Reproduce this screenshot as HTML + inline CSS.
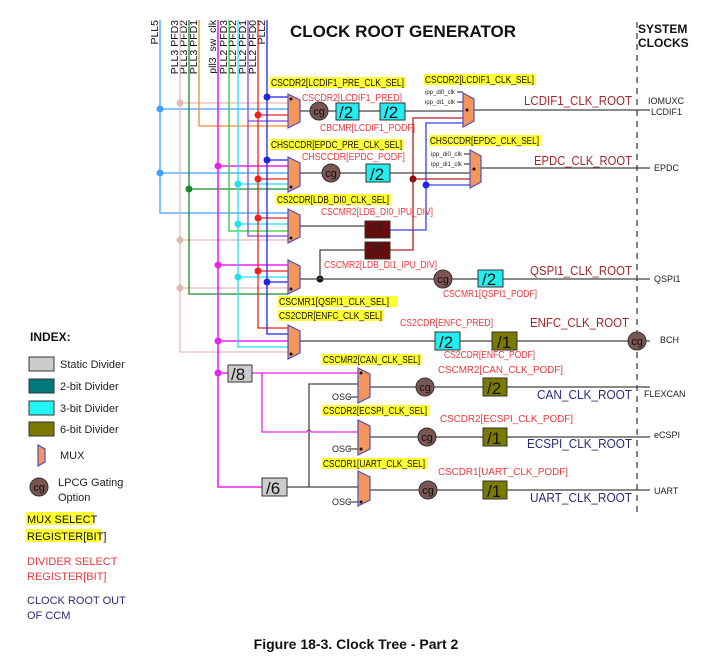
<!DOCTYPE html>
<html><head><meta charset="utf-8"><style>
html,body{margin:0;padding:0;background:#fff;}
svg{display:block;font-family:"Liberation Sans",Arial,sans-serif;}
.y{fill:#ffff33}
.rl{fill:#e8383d;font-size:10px}
.yl{fill:#111;font-size:10px}
.root{fill:#a0282d;font-size:13px}
.nroot{fill:#2a2a7a;font-size:13px}
.out{fill:#222;font-size:9px}
.dv{font-size:17px;fill:#111}
</style></head><body>
<svg width="713" height="661" viewBox="0 0 713 661" xmlns="http://www.w3.org/2000/svg">
<defs>
<g id="cg"><circle r="9" fill="#7a5552" stroke="#333" stroke-width="1"/><text y="4" text-anchor="middle" font-size="11" fill="#111">cg</text></g>
</defs>
<rect width="713" height="661" fill="#fff"/>
<text x="290" y="37" font-size="17" font-weight="bold" fill="#111">CLOCK ROOT GENERATOR</text>
<text x="638" y="33" font-size="12" font-weight="bold" fill="#111">SYSTEM</text>
<text x="638" y="47" font-size="12" font-weight="bold" fill="#111">CLOCKS</text>
<line x1="637" y1="22" x2="637" y2="512" stroke="#333" stroke-width="1.2" stroke-dasharray="6,5"/>

<!-- source labels -->
<g font-size="10.5" fill="#111">
<text transform="translate(158,20) rotate(-90)" text-anchor="end">PLL5</text>
<text transform="translate(178,20) rotate(-90)" text-anchor="end">PLL3 PFD3</text>
<text transform="translate(187,20) rotate(-90)" text-anchor="end">PLL3 PFD2</text>
<text transform="translate(197,20) rotate(-90)" text-anchor="end">PLL3 PFD1</text>
<text transform="translate(216,20) rotate(-90)" text-anchor="end">pll3_sw_clk</text>
<text transform="translate(227,20) rotate(-90)" text-anchor="end">PLL2 PFD3</text>
<text transform="translate(236,20) rotate(-90)" text-anchor="end">PLL2 PFD2</text>
<text transform="translate(246,20) rotate(-90)" text-anchor="end">PLL2 PFD1</text>
<text transform="translate(256,20) rotate(-90)" text-anchor="end">PLL2 PFD0</text>
<text transform="translate(265,20) rotate(-90)" text-anchor="end">PLL2</text>
</g>

<g fill="none" stroke-width="1.3">
<path stroke="#3fa0ff" d="M160 20V213H288 M160 109H288 M160 173H288"/>
<path stroke="#e8b8b8" d="M180 20V352H288 M180 103H288 M180 240H288 M180 288H288"/>
<path stroke="#1a8a2a" d="M189 20V294H288 M189 189H288"/>
<path stroke="#f08a30" d="M199 20V126H288"/>
<path stroke="#ee22ee" stroke-width="1.6" d="M218 20V487H262 M218 166H288 M218 265H288 M218 341H288 M218 373H228"/>
<path stroke="#33cc33" d="M229 20V231H288"/>
<path stroke="#22e0f0" d="M238 20V347H288 M238 184H288 M238 224H288 M238 277H288"/>
<path stroke="#8844dd" d="M248 20V236H288 M248 121H288"/>
<path stroke="#ee2222" d="M258 20V328H288 M258 115H288 M258 179H288 M258 218H288 M258 271H288"/>
<path stroke="#2222ee" d="M267 20V334H288 M267 97H288 M267 160H288 M267 282H288"/>
<path stroke="#ee22ee" d="M252 373H358 M262 373V432H307 M311 432H358"/>
<path stroke="#ee22ee" d="M307 432 a2 2 0 0 1 4 0"/>
<path stroke="#3344dd" d="M390 230H426V123H463 M426 185H470"/>
<path stroke="#b02020" d="M390 250H413V118H463 M413 179H470"/>
</g>
<g>
<circle cx="160" cy="109" r="3.5" fill="#3fa0ff"/><circle cx="160" cy="173" r="3.5" fill="#3fa0ff"/>
<circle cx="180" cy="103" r="3.5" fill="#e8b8b8"/><circle cx="180" cy="240" r="3.5" fill="#e8b8b8"/><circle cx="180" cy="288" r="3.5" fill="#e8b8b8"/>
<circle cx="189" cy="189" r="3.5" fill="#1a8a2a"/>
<circle cx="218" cy="166" r="3.5" fill="#ee22ee"/><circle cx="218" cy="265" r="3.5" fill="#ee22ee"/><circle cx="218" cy="341" r="3.5" fill="#ee22ee"/><circle cx="218" cy="373" r="3.5" fill="#ee22ee"/>
<circle cx="238" cy="184" r="3.5" fill="#22e0f0"/><circle cx="238" cy="224" r="3.5" fill="#22e0f0"/><circle cx="238" cy="277" r="3.5" fill="#22e0f0"/>
<circle cx="258" cy="115" r="3.5" fill="#ee2222"/><circle cx="258" cy="179" r="3.5" fill="#ee2222"/><circle cx="258" cy="218" r="3.5" fill="#ee2222"/><circle cx="258" cy="271" r="3.5" fill="#ee2222"/>
<circle cx="267" cy="97" r="3.5" fill="#2222ee"/><circle cx="267" cy="160" r="3.5" fill="#2222ee"/><circle cx="267" cy="282" r="3.5" fill="#2222ee"/>
<circle cx="426" cy="185" r="3.5" fill="#2222ee"/><circle cx="413" cy="179" r="3.5" fill="#8a1010"/>
<circle cx="320" cy="279" r="3.5" fill="#111"/>
</g>

<g stroke="#444" stroke-width="1.3" fill="none">
<path d="M300 111H463 M474 110H650"/>
<path d="M300 173H470 M481 168H650"/>
<path d="M300 226H365"/>
<path d="M300 279H650 M320 279V250H365"/>
<path d="M300 341H650"/>
<path d="M370 387H650 M370 437H650 M370 490H650"/>
<path d="M287 487H358 M309 487V384H358"/>
<path d="M348 397H358 M348 449H358 M348 502H358"/>
<path d="M457 92H463 M457 102H463 M464 154H470 M464 164H470"/>
</g>

<g fill="#f4955a" stroke="#5050c0" stroke-width="1.2">
<polygon points="288,94 300,100 300,122 288,128"/>
<polygon points="288,157 300,163 300,186 288,192"/>
<polygon points="288,209 300,215 300,237 288,243"/>
<polygon points="288,260 300,266 300,288 288,294"/>
<polygon points="288,325 300,331 300,353 288,359"/>
<polygon points="463,93 474,99 474,121 463,127"/>
<polygon points="470,150 481,156 481,182 470,188"/>
<polygon points="358,368 370,374 370,397 358,403"/>
<polygon points="358,420 370,426 370,449 358,455"/>
<polygon points="358,471 370,477 370,500 358,506"/>
</g>
<g fill="#111">
<circle cx="291" cy="99" r="1.5"/><circle cx="291" cy="187" r="1.5"/><circle cx="291" cy="238" r="1.5"/><circle cx="291" cy="289" r="1.5"/><circle cx="291" cy="354" r="1.5"/>
<circle cx="467" cy="110" r="1.5"/><circle cx="474" cy="169" r="1.5"/>
<circle cx="361" cy="373" r="1.5"/><circle cx="361" cy="449" r="1.5"/><circle cx="361" cy="502" r="1.5"/>
</g>

<use href="#cg" x="319" y="111"/><use href="#cg" x="331" y="173"/><use href="#cg" x="443" y="279"/>
<use href="#cg" x="637" y="341"/><use href="#cg" x="425" y="387"/><use href="#cg" x="427" y="437"/><use href="#cg" x="428" y="490"/>

<g stroke="#333" stroke-width="1">
<rect x="336" y="103" width="23" height="17" fill="#22eef0"/>
<rect x="380" y="103" width="25" height="17" fill="#22eef0"/>
<rect x="366" y="164" width="24" height="18" fill="#22eef0"/>
<rect x="365" y="221" width="25" height="17" fill="#6a0a0a"/>
<rect x="365" y="242" width="25" height="17" fill="#6a0a0a"/>
<rect x="478" y="270" width="25" height="17" fill="#22eef0"/>
<rect x="435" y="332" width="25" height="18" fill="#22eef0"/>
<rect x="492" y="332" width="25" height="18" fill="#7a7a00"/>
<rect x="483" y="378" width="24" height="18" fill="#7a7a00"/>
<rect x="483" y="428" width="24" height="18" fill="#7a7a00"/>
<rect x="483" y="481" width="24" height="18" fill="#7a7a00"/>
<rect x="228" y="365" width="24" height="17" fill="#cccccc"/>
<rect x="262" y="478" width="25" height="18" fill="#cccccc"/>
</g>
<g class="dv">
<text x="339" y="118">/2</text><text x="384" y="118">/2</text><text x="370" y="180">/2</text>
<text x="369" y="236" fill="#222">/7</text><text x="369" y="257" fill="#222">/7</text>
<text x="482" y="285">/2</text><text x="439" y="348">/2</text><text x="497" y="348">/1</text>
<text x="487" y="394">/2</text><text x="487" y="444">/1</text><text x="487" y="497">/1</text>
<text x="231" y="380">/8</text><text x="266" y="494">/6</text>
</g>

<g>
<rect class="y" x="270" y="77" width="136" height="11"/><text class="yl" x="271" y="86" textLength="133" lengthAdjust="spacingAndGlyphs">CSCDR2[LCDIF1_PRE_CLK_SEL]</text>
<rect class="y" x="424" y="74" width="112" height="11"/><text class="yl" x="425" y="83" textLength="109" lengthAdjust="spacingAndGlyphs">CSCDR2[LCDIF1_CLK_SEL]</text>
<rect class="y" x="270" y="139" width="134" height="11"/><text class="yl" x="271" y="148" textLength="131" lengthAdjust="spacingAndGlyphs">CHSCCDR[EPDC_PRE_CLK_SEL]</text>
<rect class="y" x="429" y="135" width="112" height="11"/><text class="yl" x="430" y="144" textLength="109" lengthAdjust="spacingAndGlyphs">CHSCCDR[EPDC_CLK_SEL]</text>
<rect class="y" x="276" y="194" width="115" height="11"/><text class="yl" x="277" y="203" textLength="112" lengthAdjust="spacingAndGlyphs">CS2CDR[LDB_DI0_CLK_SEL]</text>
<rect class="y" x="278" y="296" width="119" height="11"/><text class="yl" x="279" y="305" textLength="110" lengthAdjust="spacingAndGlyphs">CSCMR1[QSPI1_CLK_SEL]</text>
<rect class="y" x="278" y="310" width="106" height="11"/><text class="yl" x="279" y="319" textLength="103" lengthAdjust="spacingAndGlyphs">CS2CDR[ENFC_CLK_SEL]</text>
<rect class="y" x="322" y="354" width="100" height="11"/><text class="yl" x="323" y="363" textLength="97" lengthAdjust="spacingAndGlyphs">CSCMR2[CAN_CLK_SEL]</text>
<rect class="y" x="322" y="405" width="107" height="11"/><text class="yl" x="323" y="414" textLength="104" lengthAdjust="spacingAndGlyphs">CSCDR2[ECSPI_CLK_SEL]</text>
<rect class="y" x="322" y="458" width="105" height="11"/><text class="yl" x="323" y="467" textLength="102" lengthAdjust="spacingAndGlyphs">CSCDR1[UART_CLK_SEL]</text>
</g>
<g class="rl" lengthAdjust="spacingAndGlyphs">
<text x="302" y="101" textLength="100" lengthAdjust="spacingAndGlyphs">CSCDR2[LCDIF1_PRED]</text>
<text x="320" y="131" textLength="95" lengthAdjust="spacingAndGlyphs">CBCMR[LCDIF1_PODF]</text>
<text x="302" y="160" textLength="103" lengthAdjust="spacingAndGlyphs">CHSCCDR[EPDC_PODF]</text>
<text x="321" y="215" textLength="112" lengthAdjust="spacingAndGlyphs">CSCMR2[LDB_DI0_IPU_DIV]</text>
<text x="324" y="268" textLength="113" lengthAdjust="spacingAndGlyphs">CSCMR2[LDB_DI1_IPU_DIV]</text>
<text x="443" y="297" textLength="94" lengthAdjust="spacingAndGlyphs">CSCMR1[QSPI1_PODF]</text>
<text x="400" y="326" textLength="93" lengthAdjust="spacingAndGlyphs">CS2CDR[ENFC_PRED]</text>
<text x="444" y="358" textLength="91" lengthAdjust="spacingAndGlyphs">CS2CDR[ENFC_PODF]</text>
<text x="438" y="373" textLength="125" lengthAdjust="spacingAndGlyphs">CSCMR2[CAN_CLK_PODF]</text>
<text x="440" y="422" textLength="133" lengthAdjust="spacingAndGlyphs">CSCDR2[ECSPI_CLK_PODF]</text>
<text x="438" y="475" textLength="130" lengthAdjust="spacingAndGlyphs">CSCDR1[UART_CLK_PODF]</text>
</g>
<g font-size="6.5" fill="#222">
<text x="425" y="94" textLength="30" lengthAdjust="spacingAndGlyphs">ipp_di0_clk</text><text x="425" y="104" textLength="30" lengthAdjust="spacingAndGlyphs">ipp_di1_clk</text>
<text x="431" y="156" textLength="31" lengthAdjust="spacingAndGlyphs">ipp_di0_clk</text><text x="431" y="166" textLength="31" lengthAdjust="spacingAndGlyphs">ipp_di1_clk</text>
</g>
<g font-size="9" fill="#222">
<text x="332" y="400">OSC</text><text x="332" y="452">OSC</text><text x="332" y="505">OSC</text>
</g>
<text class="root" x="524" y="105" textLength="108" lengthAdjust="spacingAndGlyphs">LCDIF1_CLK_ROOT</text>
<text class="root" x="534" y="165" textLength="98" lengthAdjust="spacingAndGlyphs">EPDC_CLK_ROOT</text>
<text class="root" x="530" y="275" textLength="102" lengthAdjust="spacingAndGlyphs">QSPI1_CLK_ROOT</text>
<text class="root" x="530" y="327" textLength="99" lengthAdjust="spacingAndGlyphs">ENFC_CLK_ROOT</text>
<text class="nroot" x="537" y="399" textLength="95" lengthAdjust="spacingAndGlyphs">CAN_CLK_ROOT</text>
<text class="nroot" x="527" y="448" textLength="105" lengthAdjust="spacingAndGlyphs">ECSPI_CLK_ROOT</text>
<text class="nroot" x="530" y="502" textLength="102" lengthAdjust="spacingAndGlyphs">UART_CLK_ROOT</text>
<g class="out">
<text x="648" y="104">IOMUXC</text><text x="651" y="115">LCDIF1</text>
<text x="654" y="171">EPDC</text><text x="654" y="282">QSPI1</text><text x="660" y="343">BCH</text>
<text x="644" y="397">FLEXCAN</text><text x="654" y="438">eCSPI</text><text x="654" y="494">UART</text>
</g>

<text x="30" y="341" font-size="12" font-weight="bold" fill="#111">INDEX:</text>
<g stroke="#333" stroke-width="1">
<rect x="29" y="357" width="25" height="14" fill="#cccccc"/>
<rect x="29" y="379" width="25" height="14" fill="#007a7a"/>
<rect x="29" y="401" width="25" height="14" fill="#22f5f5"/>
<rect x="29" y="422" width="25" height="14" fill="#7a7a00"/>
</g>
<polygon points="38,445 45,449 45,462 38,466" fill="#f4955a" stroke="#5050c0" stroke-width="1.2"/>
<use href="#cg" x="39" y="487"/>
<g font-size="11" fill="#222">
<text x="60" y="368">Static Divider</text>
<text x="60" y="390">2-bit Divider</text>
<text x="60" y="412">3-bit Divider</text>
<text x="60" y="433">6-bit Divider</text>
<text x="60" y="459">MUX</text>
<text x="58" y="486">LPCG Gating</text>
<text x="58" y="501">Option</text>
</g>
<rect class="y" x="26" y="512" width="68" height="13"/><rect class="y" x="26" y="529" width="76" height="13"/>
<g font-size="11" fill="#111"><text x="27" y="523">MUX SELECT</text><text x="27" y="540">REGISTER[BIT]</text></g>
<g font-size="11" fill="#e8383d"><text x="27" y="565">DIVIDER SELECT</text><text x="27" y="580">REGISTER[BIT]</text></g>
<g font-size="11" fill="#2a2a7a"><text x="27" y="604">CLOCK ROOT OUT</text><text x="27" y="619">OF CCM</text></g>

<text x="356" y="649" text-anchor="middle" font-size="14" font-weight="bold" fill="#111">Figure 18-3. Clock Tree - Part 2</text>
</svg>
</body></html>
